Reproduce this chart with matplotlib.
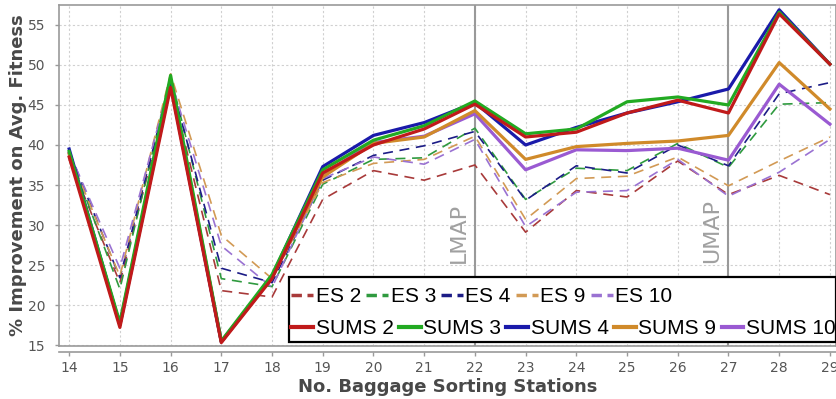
import matplotlib
matplotlib.use("Agg")
import matplotlib.pyplot as plt
from matplotlib.patches import Rectangle

stations = list(range(14, 30))

sums2 = [38.5, 17.2, 47.2, 15.3, 23.3, 36.5, 40.0, 42.0, 45.1, 41.0, 41.6, 44.0, 45.6, 44.0, 56.4, 50.1]
sums3 = [39.2, 17.8, 48.7, 15.5, 23.8, 36.9, 40.6, 42.4, 45.5, 41.4, 42.0, 45.4, 46.0, 45.0, 56.6, 50.1]
sums4 = [39.5, 17.5, 47.6, 15.4, 23.6, 37.3, 41.2, 42.8, 45.3, 40.0, 42.2, 44.0, 45.4, 47.0, 56.9, 50.1]
sums9 = [38.9, 17.5, 48.2, 15.4, 23.5, 36.0, 40.2, 41.0, 44.3, 38.2, 39.8, 40.2, 40.5, 41.2, 50.3, 44.5]
sums10 = [39.0, 17.6, 47.8, 15.4, 23.4, 36.3, 40.3, 41.1, 43.9, 36.9, 39.4, 39.3, 39.6, 38.1, 47.6, 42.6]

es2 = [38.2, 22.8, 47.5, 21.8, 21.0, 33.2, 36.8, 35.6, 37.5, 29.1, 34.3, 33.5, 38.0, 33.8, 36.2, 33.8]
es3 = [39.0, 22.0, 48.6, 23.3, 22.3, 35.1, 38.2, 38.4, 42.1, 33.2, 37.1, 36.8, 40.2, 37.2, 45.1, 45.3]
es4 = [39.2, 23.4, 48.0, 24.6, 22.8, 35.6, 38.7, 39.9, 41.7, 33.1, 37.4, 36.5, 40.0, 37.4, 46.4, 47.8]
es9 = [38.8, 23.6, 48.9, 28.7, 23.3, 35.3, 37.7, 38.2, 41.1, 30.7, 35.8, 36.1, 38.5, 34.9, 38.0, 41.0]
es10 = [39.1, 24.6, 48.2, 27.4, 22.2, 35.8, 38.5, 37.6, 40.7, 29.8, 34.1, 34.3, 38.2, 33.6, 36.6, 40.7]

es_labels = ["ES 2", "ES 3", "ES 4", "ES 9", "ES 10"]
sums_labels = ["SUMS 2", "SUMS 3", "SUMS 4", "SUMS 9", "SUMS 10"]
es_colors = ["#a83a3a", "#2f9a3f", "#1c1c86", "#d29a55", "#9a72d2"]
sums_colors = ["#c01a1a", "#22aa22", "#1a1aaa", "#d08a2a", "#9a5ad2"]

markers = {22: "LMAP", 27: "UMAP"}

fig = plt.figure(figsize=(8.37, 3.99), dpi=100)
ax = fig.add_axes([0.0705, 0.1328, 0.9283, 0.8547])

es_handles = []
for vals, c, lab in zip([es2, es3, es4, es9, es10], es_colors, es_labels):
    h, = ax.plot(stations, vals, color=c, lw=1.2, dashes=(6, 4), label=lab)
    es_handles.append(h)

sums_handles = []
for vals, c, lab in zip([sums2, sums3, sums4, sums9, sums10], sums_colors, sums_labels):
    h, = ax.plot(stations, vals, color=c, lw=2.3, label=lab)
    sums_handles.append(h)
# red on top, like the original
for h, z in zip(sums_handles, [3.5, 3.4, 3.3, 3.2, 3.1]):
    h.set_zorder(z)

for x, txt in markers.items():
    ax.axvline(x, color="#999999", lw=1.5, zorder=1.5)
    ax.text(x - 0.12, 25.2, txt, rotation=90, color="#a0a0a0", fontsize=16,
            ha="right", va="bottom")

ax.set_xlim(13.8, 29.12)
ax.set_ylim(14.875, 57.5)
ax.set_xticks(stations)
ax.set_yticks(range(15, 56, 5))
ax.grid(True, color="#d0d0d0", linestyle=(0, (2, 2)), lw=0.8)
ax.set_axisbelow(True)

for s in ax.spines.values():
    s.set_color("#9a9a9a")
    s.set_linewidth(1.2)
ax.spines["bottom"].set_position(("outward", 4.5))
ax.plot([0, 1], [0, 0], transform=ax.transAxes, color="#9a9a9a", lw=1.2, clip_on=False)

ax.tick_params(axis="both", colors="#9a9a9a", labelcolor="#555555", labelsize=10,
               length=3, width=1)
ax.tick_params(axis="y", pad=7)

ax.set_xlabel("No. Baggage Sorting Stations", fontsize=13, fontweight="bold",
              color="#484848", labelpad=2)
ax.set_ylabel("% Improvement on Avg. Fitness", fontsize=13, fontweight="bold",
              color="#484848", labelpad=0)

ax.add_patch(Rectangle((0.296, 0.012), 0.704, 0.19, transform=ax.transAxes,
                       facecolor="white", edgecolor="black", lw=1.6, zorder=4.5))

leg_kw = dict(frameon=False, loc="center left", borderpad=0, borderaxespad=0,
              handlelength=1.05, handletextpad=0.12, columnspacing=0.25, ncol=5,
              prop={"family": "Liberation Sans", "size": 15})
leg1 = ax.legend(handles=es_handles, bbox_to_anchor=(0.299, 0.144), **leg_kw)
for line in leg1.get_lines():
    line.set_linewidth(2.5)
    line.set_dashes((3, 1.6))
ax.add_artist(leg1)
leg2 = ax.legend(handles=sums_handles, bbox_to_anchor=(0.299, 0.05), **leg_kw)
for line in leg2.get_lines():
    line.set_linewidth(3)

fig.savefig("out.png", dpi=100)
